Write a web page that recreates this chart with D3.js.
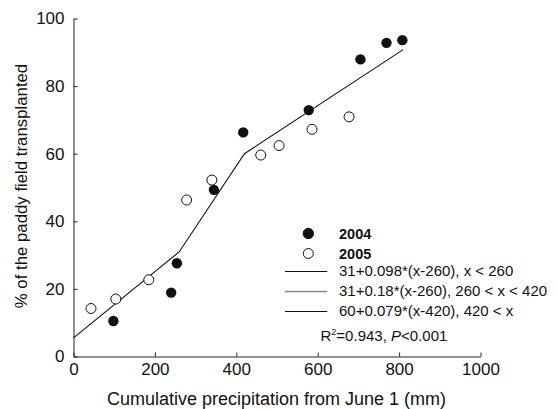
<!DOCTYPE html>
<html><head><meta charset="utf-8">
<script src="https://cdn.jsdelivr.net/npm/d3@7"></script>
<style>body{margin:0;background:#fff}svg{display:block}text{font-family:"Liberation Sans",Arial,sans-serif;fill:#111}</style>
</head><body><svg id="c" width="558" height="409"></svg>
<script>
const xTicks = [0, 200, 400, 600, 800, 1000];
const yTicks = [0, 20, 40, 60, 80, 100];
const data2004 = [[98,10.5],[240,18.9],[254,27.6],[345,49.3],[417,66.3],[578,72.9],[705,87.9],[769,92.8],[808,93.6]];
const data2005 = [[43,14.2],[104,17.0],[185,22.7],[278,46.3],[340,52.2],[460,59.6],[505,62.4],[586,67.2],[677,70.9]];
const fitLine = [[0,5.5],[260,31],[420,60],[810,90.8]];
const legendItems = ["2004","2005"];
const legendLines = ["31+0.098*(x-260), x < 260","31+0.18*(x-260), 260 < x < 420","60+0.079*(x-420), 420 < x"];

const svg = d3.select("#c");
const x = d3.scaleLinear().domain([0,1000]).range([73.5,480.5]);
const y = d3.scaleLinear().domain([0,100]).range([356.5,18.5]);

const xa = svg.append("g").attr("transform",`translate(0,${y(0)})`)
  .call(d3.axisBottom(x).tickValues(xTicks).tickFormat(d3.format("d")).tickSizeInner(-4).tickSizeOuter(0).tickPadding(8));
const ya = svg.append("g").attr("transform",`translate(${x(0)},0)`)
  .call(d3.axisLeft(y).tickValues(yTicks).tickFormat(d3.format("d")).tickSizeInner(-4).tickSizeOuter(0).tickPadding(9));
[xa,ya].forEach(a=>{a.selectAll("path,line").attr("stroke","#222").attr("stroke-width",1);
  a.selectAll("text").attr("font-size",17).attr("font-family","Liberation Sans, Arial, sans-serif").attr("fill","#111");});
xa.selectAll("text").attr("dy","0.6em");

svg.append("text").attr("x",276.5).attr("y",405).attr("text-anchor","middle").attr("font-size",18).text("Cumulative precipitation from June 1 (mm)");
svg.append("text").attr("transform","translate(27,186) rotate(-90)").attr("text-anchor","middle").attr("font-size",16.8).text("% of the paddy field transplanted");

svg.append("path").datum(fitLine).attr("d",d3.line().x(d=>x(d[0])).y(d=>y(d[1])))
  .attr("fill","none").attr("stroke","#111").attr("stroke-width",1.1);

svg.selectAll(".p4").data(data2004).join("circle").attr("cx",d=>x(d[0])).attr("cy",d=>y(d[1])).attr("r",5.2).attr("fill","#111");
svg.selectAll(".p5").data(data2005).join("circle").attr("cx",d=>x(d[0])).attr("cy",d=>y(d[1])).attr("r",5).attr("fill","#fff").attr("stroke","#111").attr("stroke-width",1);

const lg = svg.append("g");
legendItems.forEach((t,i)=>{
  const cy = 233.5 + i*20;
  lg.append("circle").attr("cx",308.3).attr("cy",cy).attr("r",i===0?5.2:5).attr("fill",i===0?"#111":"#fff").attr("stroke","#111").attr("stroke-width",1);
  lg.append("text").attr("x",339).attr("y",cy+5).attr("font-size",14.5).attr("font-weight","bold").text(t);
});
legendLines.forEach((t,i)=>{
  const ly = 271.5 + i*20;
  lg.append("line").attr("x1",285).attr("x2",327.3).attr("y1",ly).attr("y2",ly).attr("stroke",i===1?"#888":"#111").attr("stroke-width",i===1?1.6:1);
  lg.append("text").attr("x",339).attr("y",ly+4.5).attr("font-size",15).text(t);
});
const rt = lg.append("text").attr("x",320.5).attr("y",341).attr("font-size",15);
rt.append("tspan").text("R");
rt.append("tspan").attr("font-size",9).attr("dy",-6).text("2");
rt.append("tspan").attr("dy",6).text("=0.943, ");
rt.append("tspan").attr("font-style","italic").text("P");
rt.append("tspan").text("<0.001");
</script></body></html>
